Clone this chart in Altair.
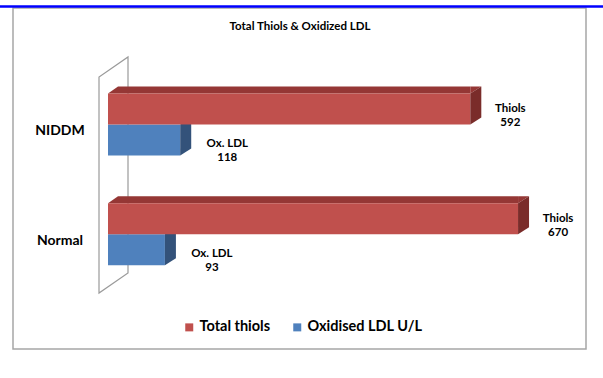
import altair as alt
import pandas as pd

categories = ["NIDDM", "Normal"]
thiols = [592, 670]
ox_ldl = [118, 93]
series_names = ["Total thiols", "Oxidised LDL U/L"]
label_prefix = ["Thiols", "Ox. LDL"]
title_text = "Total Thiols & Oxidized LDL"

rows = []
for i, c in enumerate(categories):
    for s, vals, pre in [(series_names[0], thiols, label_prefix[0]),
                         (series_names[1], ox_ldl, label_prefix[1])]:
        rows.append({"category": c, "series": s, "value": vals[i], "base": 0,
                     "label": f"{pre}\n{vals[i]}"})
df = pd.DataFrame(rows)
red_df = df[df.series == series_names[0]]
blue_df = df[df.series == series_names[1]]
one = pd.DataFrame({"a": [0]})

FONT = "Lato"
RED, RED_TOP, RED_END = "#C0504D", "#953735", "#7A2C2A"
BLUE, BLUE_END = "#4F81BD", "#33527A"

xs = alt.Scale(domain=[0, 700], range=[108, 536.4], nice=False, zero=True)
ys = alt.Scale(domain=categories, range=[69.5, 289], paddingInner=0, paddingOuter=0)
cs = alt.Scale(domain=series_names, range=[RED, BLUE])

X = alt.X("value:Q", scale=xs, axis=None)
XB = alt.X("base:Q", scale=xs, axis=None)
Y = alt.Y("category:N", scale=ys, axis=None)

border = alt.Chart(one).mark_rect(fill="white", stroke="#A6A6A6", strokeWidth=1.5).encode(
    x=alt.value(13), x2=alt.value(586), y=alt.value(8), y2=alt.value(349))
topline = alt.Chart(one).mark_rule(color="#0000FF", strokeWidth=2.5).encode(
    x=alt.value(0), x2=alt.value(603), y=alt.value(6.5))
wall = alt.Chart(one).mark_point(
    shape="M0,0 L0,-216 L29,-236 L29,-20 Z", size=4, filled=True, fill="white",
    stroke="#9A9A9A", strokeWidth=1.2, opacity=1).encode(
    x=alt.value(99), y=alt.value(293))
title = alt.Chart(one).mark_text(text=title_text, font=FONT, fontSize=11.5, fontWeight="bold",
                                 color="black", align="center", baseline="middle").encode(
    x=alt.value(300), y=alt.value(27))

blue_front = alt.Chart(blue_df).mark_bar(size=31, yOffset=15.5).encode(
    x=X, y=Y, color=alt.Color("series:N", scale=cs, legend=alt.Legend(
        orient="none", legendX=182, legendY=320, direction="horizontal", title=None,
        symbolType="square", symbolSize=64, symbolStrokeWidth=0, labelFont=FONT,
        labelFontSize=14.5, labelFontWeight="bold", labelColor="black", columnPadding=19,
        labelOffset=3, padding=0)))
blue_end = alt.Chart(blue_df).mark_point(
    shape="M0,0 L11,-7 L11,24 L0,31 Z", size=4, filled=True, fill=BLUE_END,
    strokeWidth=0, opacity=1).encode(x=X, y=Y)
red_top = alt.Chart(red_df).mark_bar(size=7, yOffset=-34.5, xOffset=10, color=RED_TOP).encode(
    x=XB, x2="value:Q", y=Y)
red_top_left = alt.Chart(red_df).mark_point(
    shape="M0,-31 L10,-38 L10,-31 Z", size=4, filled=True, fill=RED_TOP,
    strokeWidth=0, opacity=1).encode(x=XB, y=Y)
red_top_right = alt.Chart(red_df).mark_point(
    shape="M0,-31 L0,-38 L11,-38 Z", size=4, filled=True, fill=RED_TOP,
    strokeWidth=0, opacity=1).encode(x=X, y=Y)
red_front = alt.Chart(red_df).mark_bar(size=31, yOffset=-15.5).encode(
    x=X, y=Y, color=alt.Color("series:N", scale=cs))
red_end = alt.Chart(red_df).mark_point(
    shape="M0,-31 L11,-38 L11,-7 L0,0 Z", size=4, filled=True, fill=RED_END,
    strokeWidth=0, opacity=1).encode(x=X, y=Y)

red_labels = alt.Chart(red_df).mark_text(
    font=FONT, fontSize=11.5, fontWeight="bold", color="black", align="center",
    baseline="middle", lineBreak="\n", lineHeight=14.5, dx=40, dy=-15.5).encode(
    x=X, y=Y, text="label:N")
blue_labels = alt.Chart(blue_df).mark_text(
    font=FONT, fontSize=11.5, fontWeight="bold", color="black", align="center",
    baseline="middle", lineBreak="\n", lineHeight=14.5, dx=47, dy=19.5).encode(
    x=X, y=Y, text="label:N")
cat_labels = alt.Chart(pd.DataFrame({"category": categories})).mark_text(
    font=FONT, fontSize=14, fontWeight="bold", color="black", align="center",
    baseline="middle", dy=7).encode(x=alt.value(60), y=Y, text="category:N")

chart = alt.layer(
    border, topline, title, wall, blue_front, blue_end, red_top, red_top_left,
    red_top_right, red_front, red_end, red_labels, blue_labels, cat_labels
).properties(width=603, height=378, autosize="none", padding=0, background="white"
).configure_view(stroke=None)

chart.save("out.html", embed_options={"renderer": "svg", "actions": False})
